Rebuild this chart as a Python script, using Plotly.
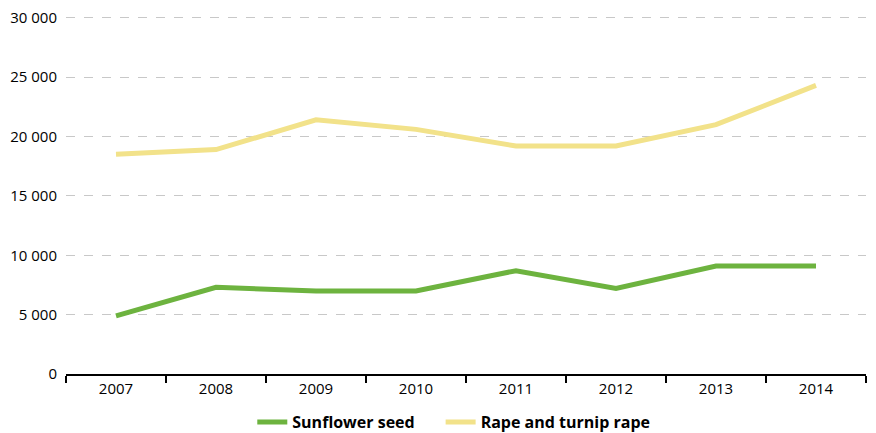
import plotly.graph_objects as go

years = ["2007", "2008", "2009", "2010", "2011", "2012", "2013", "2014"]
sunflower = [4900, 7300, 7000, 7000, 8700, 7200, 9100, 9100]
rape = [18500, 18900, 21400, 20600, 19200, 19200, 21000, 24300]
y_ticks = [0, 5000, 10000, 15000, 20000, 25000, 30000]
y_labels = ["0", "5 000", "10 000", "15 000", "20 000", "25 000", "30 000"]

fig = go.Figure()
fig.add_trace(go.Scatter(x=years, y=sunflower, mode="lines", name="Sunflower seed",
                         line=dict(color="#6db33f", width=5), legend="legend"))
fig.add_trace(go.Scatter(x=years, y=rape, mode="lines", name="Rape and turnip rape",
                         line=dict(color="#f2e28a", width=5), legend="legend2"))

legend_style = dict(orientation="h", xanchor="left", xref="container",
                    y=0.025, yanchor="middle", yref="container",
                    font=dict(size=16, color="#000000", weight="bold"),
                    itemwidth=30, bgcolor="rgba(0,0,0,0)")

fig.update_layout(
    width=876, height=433,
    margin=dict(l=66, r=10, t=13, b=59, autoexpand=False),
    plot_bgcolor="white", paper_bgcolor="white",
    font=dict(family="Open Sans, Noto Sans, sans-serif", size=15, color="#000000"),
    showlegend=True,
    legend=dict(x=0.288, **legend_style),
    legend2=dict(x=0.503, **legend_style),
    xaxis=dict(type="category", showgrid=False, showline=True, linecolor="black",
               linewidth=2, ticks="outside", tickson="boundaries", ticklen=7,
               tickwidth=2, tickcolor="black", range=[-0.5, 7.5],
               tickfont=dict(size=15)),
    yaxis=dict(range=[0, 30400], tickvals=y_ticks, ticktext=y_labels,
               showgrid=True, gridcolor="#c8c8c8", griddash="dash", gridwidth=1,
               zeroline=False, showline=False, ticks="", ticklabelstandoff=8,
               tickfont=dict(size=15)),
)

fig.write_html("out.html")
